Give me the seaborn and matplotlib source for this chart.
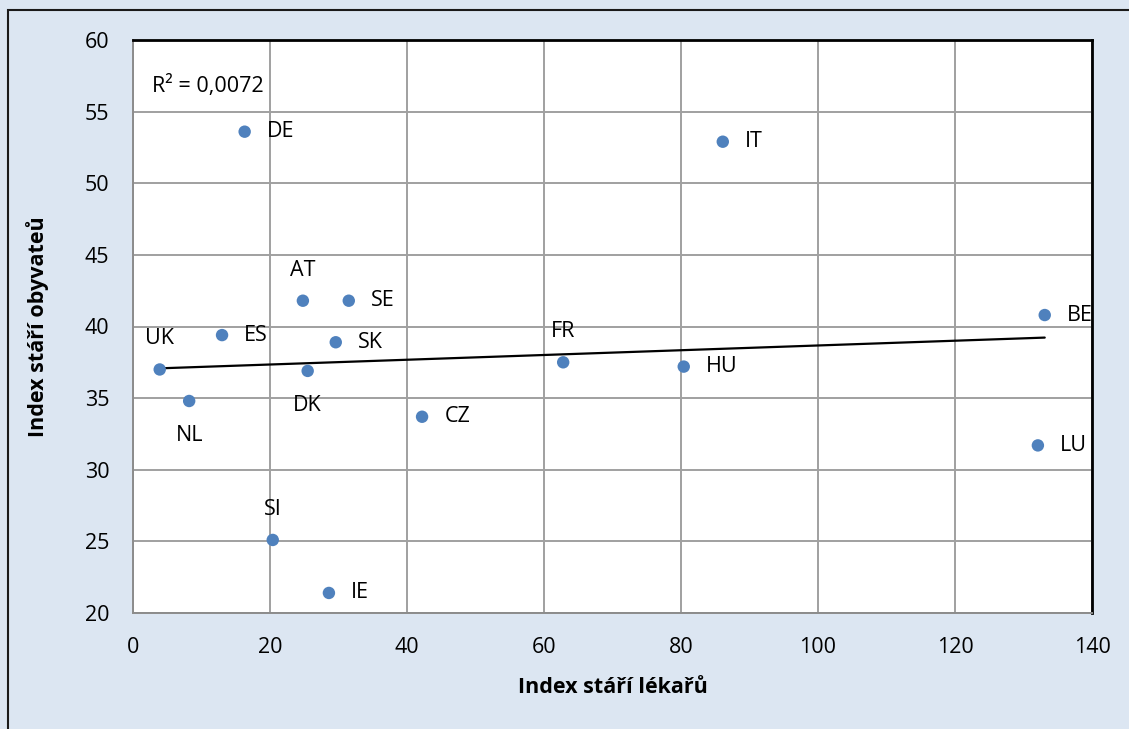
import numpy as np
import pandas as pd
import matplotlib
matplotlib.use("Agg")
import matplotlib.pyplot as plt
from matplotlib.patches import Rectangle
import seaborn as sns

# ---- data ----
countries = ["DE", "IT", "AT", "SE", "ES", "SK", "UK", "DK", "NL", "CZ",
             "FR", "HU", "BE", "LU", "SI", "IE"]
doctor_age_index = [16.3, 86.1, 24.8, 31.5, 13.0, 29.6, 3.9, 25.5, 8.2, 42.2,
                    62.8, 80.4, 133.1, 132.1, 20.4, 28.6]
population_age_index = [53.6, 52.9, 41.8, 41.8, 39.4, 38.9, 37.0, 36.9, 34.8, 33.7,
                        37.5, 37.2, 40.8, 31.7, 25.1, 21.4]
x_ticks = [0, 20, 40, 60, 80, 100, 120, 140]
y_ticks = [20, 25, 30, 35, 40, 45, 50, 55, 60]
r2_label = "R² = 0,0072"
x_title = "Index stáří lékařů"
y_title = "Index stáří obyvateů"

df = pd.DataFrame({"country": countries, "x": doctor_age_index, "y": population_age_index})

# label placement (layout): 'r' right, 'a' above, 'b' below
placement = {"AT": "a", "FR": "a", "SI": "a", "UK": "a", "DK": "b", "NL": "b"}

sns.set_theme(style="white")
plt.rcParams["font.family"] = ["Open Sans", "DejaVu Sans"]

W, H = 1129, 729
fig = plt.figure(figsize=(W / 100, H / 100), dpi=100)
fig.patch.set_facecolor("#dce6f2")

# outer chart border (left and top visible)
fig.patches.append(Rectangle((8 / W, -0.2), 1.2, 1 - 10 / H + 0.2, transform=fig.transFigure,
                             fill=False, edgecolor="#1a1a1a", linewidth=1.5, zorder=0))

ax = fig.add_axes([133 / W, 1 - 613 / H, (1092 - 133) / W, (613 - 40) / H])
ax.set_facecolor("white")

sns.regplot(data=df, x="x", y="y", ax=ax, ci=None, truncate=True,
            scatter_kws=dict(s=80, color="#4f81bd", edgecolors="none", alpha=1, zorder=3),
            line_kws=dict(color="black", linewidth=1.6, zorder=2))

ax.set_xlim(0, 140)
ax.set_ylim(20, 60)
ax.set_xticks(x_ticks)
ax.set_yticks(y_ticks)
ax.tick_params(axis="both", length=0, labelsize=15.5, colors="black")
ax.tick_params(axis="x", pad=17)
ax.tick_params(axis="y", pad=17)
ax.grid(True, color="#a0a0a0", linewidth=1.4)
ax.set_axisbelow(True)

for side in ["left", "bottom"]:
    ax.spines[side].set_color("#8c8c8c")
    ax.spines[side].set_linewidth(1.4)
for side in ["top", "right"]:
    ax.spines[side].set_color("black")
    ax.spines[side].set_linewidth(2)

ax.set_xlabel(x_title, fontsize=15.5, fontweight="bold", labelpad=14, color="black")
ax.set_ylabel(y_title, fontsize=15.5, fontweight="bold", labelpad=26, color="black")

for c, xv, yv in zip(countries, doctor_age_index, population_age_index):
    p = placement.get(c, "r")
    if p == "r":
        off, ha, va = (16, 0), "left", "center"
    elif p == "a":
        off, ha, va = (0, 22), "center", "center"
    else:
        off, ha, va = (0, -25), "center", "center"
    ax.annotate(c, (xv, yv), xytext=off, textcoords="offset points",
                ha=ha, va=va, fontsize=15.5, color="black", annotation_clip=False,
                clip_on=True)

ax.text(2.8, 56.8, r2_label, fontsize=15.5, ha="left", va="center", color="black")

fig.savefig("out.png", dpi=100, facecolor=fig.get_facecolor())
